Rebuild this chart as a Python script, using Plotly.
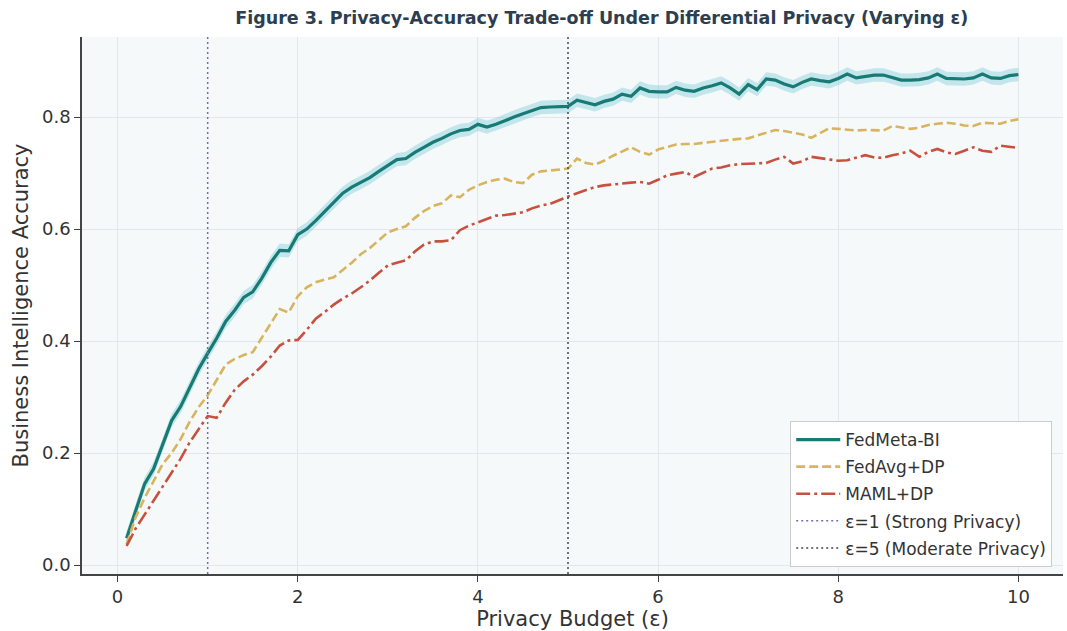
import plotly.graph_objects as go

# Privacy budget values (epsilon)
epsilon = [round(0.1 * i, 1) for i in range(1, 101)]

fedmeta_bi = [
    0.048, 0.095, 0.145, 0.172, 0.215, 0.258, 0.283, 0.316, 0.350, 0.378,
    0.405, 0.435, 0.455, 0.478, 0.488, 0.512, 0.540, 0.562, 0.561, 0.590,
    0.600, 0.615, 0.632, 0.648, 0.664, 0.675, 0.683, 0.692, 0.703, 0.714,
    0.724, 0.726, 0.737, 0.746, 0.755, 0.762, 0.770, 0.776, 0.778, 0.787,
    0.782, 0.787, 0.794, 0.800, 0.806, 0.812, 0.817, 0.818, 0.818, 0.819,
    0.830, 0.826, 0.822, 0.828, 0.832, 0.841, 0.837, 0.852, 0.846, 0.845,
    0.845, 0.853, 0.848, 0.846, 0.852, 0.856, 0.861, 0.852, 0.841, 0.858,
    0.849, 0.868, 0.866, 0.859, 0.854, 0.862, 0.868, 0.865, 0.863, 0.869,
    0.877, 0.870, 0.872, 0.875, 0.875, 0.871, 0.866, 0.866, 0.867, 0.870,
    0.877, 0.869, 0.868, 0.868, 0.870, 0.877, 0.870, 0.869, 0.874, 0.876,
]

fedavg_dp = [
    0.037, 0.085, 0.120, 0.150, 0.180, 0.200, 0.225, 0.256, 0.282, 0.303,
    0.330, 0.358, 0.368, 0.375, 0.380, 0.405, 0.432, 0.457, 0.451, 0.480,
    0.496, 0.505, 0.510, 0.514, 0.527, 0.540, 0.555, 0.566, 0.580, 0.594,
    0.600, 0.605, 0.620, 0.632, 0.641, 0.646, 0.660, 0.657, 0.670, 0.678,
    0.684, 0.688, 0.690, 0.684, 0.682, 0.697, 0.703, 0.705, 0.707, 0.708,
    0.726, 0.718, 0.715, 0.722, 0.731, 0.738, 0.746, 0.738, 0.733, 0.742,
    0.746, 0.751, 0.752, 0.752, 0.754, 0.756, 0.758, 0.760, 0.761, 0.762,
    0.767, 0.771, 0.777, 0.775, 0.772, 0.769, 0.763, 0.772, 0.780, 0.779,
    0.778, 0.776, 0.777, 0.776, 0.776, 0.784, 0.782, 0.779, 0.781, 0.786,
    0.788, 0.790, 0.788, 0.785, 0.784, 0.790, 0.789, 0.788, 0.793, 0.796,
]

maml_dp = [
    0.034, 0.065, 0.090, 0.115, 0.140, 0.165, 0.190, 0.219, 0.243, 0.266,
    0.263, 0.290, 0.313, 0.328, 0.340, 0.355, 0.372, 0.392, 0.401, 0.402,
    0.420, 0.440, 0.452, 0.465, 0.476, 0.485, 0.496, 0.508, 0.522, 0.535,
    0.540, 0.544, 0.560, 0.572, 0.578, 0.578, 0.580, 0.598, 0.606, 0.612,
    0.619, 0.624, 0.625, 0.628, 0.630, 0.637, 0.642, 0.645, 0.652, 0.658,
    0.664, 0.670, 0.675, 0.678, 0.680, 0.681, 0.683, 0.684, 0.681, 0.688,
    0.696, 0.699, 0.702, 0.693, 0.700, 0.708, 0.710, 0.714, 0.716, 0.717,
    0.717, 0.718, 0.724, 0.729, 0.717, 0.721, 0.729, 0.727, 0.725, 0.722,
    0.723, 0.727, 0.732, 0.728, 0.727, 0.732, 0.735, 0.740, 0.729, 0.738,
    0.743, 0.737, 0.734, 0.740, 0.746, 0.740, 0.738, 0.749, 0.747, 0.745,
]

# Spread of FedMeta-BI accuracy across runs (half-width of the shaded band)
fedmeta_spread = 0.012

# Reference privacy levels
ref_eps = [1, 5]
ref_names = ["ε=1 (Strong Privacy)", "ε=5 (Moderate Privacy)"]
ref_colors = ["#7d68ad", "#3d4756"]

X_RANGE = [-0.395, 10.495]
Y_RANGE = [-0.016, 0.943]

FONT = "DejaVu Sans"
TEXT = "#333333"

fig = go.Figure()

upper = [v + fedmeta_spread for v in fedmeta_bi]
lower = [v - fedmeta_spread for v in fedmeta_bi]
fig.add_trace(go.Scatter(
    x=epsilon + epsilon[::-1], y=upper + lower[::-1],
    fill="toself", fillcolor="rgba(110,200,212,0.38)",
    line=dict(width=0), hoverinfo="skip", showlegend=False,
))

fig.add_trace(go.Scatter(
    x=epsilon, y=fedmeta_bi, mode="lines", name="FedMeta-BI",
    line=dict(color="#187a74", width=3.2), legendgroup="a",
))
fig.add_trace(go.Scatter(
    x=epsilon, y=fedavg_dp, mode="lines", name="FedAvg+DP",
    line=dict(color="#d8b45e", width=2.6, dash="9px,4px"), legendgroup="b",
))
fig.add_trace(go.Scatter(
    x=epsilon, y=maml_dp, mode="lines", name="MAML+DP",
    line=dict(color="#c8503f", width=2.6, dash="14px,4px,3px,4px"), legendgroup="c",
))

for i, (e, nm, col) in enumerate(zip(ref_eps, ref_names, ref_colors)):
    fig.add_trace(go.Scatter(
        x=[e, e], y=Y_RANGE, mode="lines", name=nm,
        line=dict(color=col, width=1.5, dash="2px,3px"),
        legendgroup="r%d" % i, hoverinfo="skip",
    ))

axis_common = dict(
    showgrid=True, gridcolor="#e4e7ea", gridwidth=1,
    zeroline=False, showline=True, linecolor="#444444", linewidth=1.5,
    ticks="outside", ticklen=6, tickwidth=1.2, tickcolor="#444444",
    tickfont=dict(family=FONT, size=18, color=TEXT), mirror=False,
)

fig.update_layout(
    width=1067, height=631,
    margin=dict(l=82, r=4, t=37, b=57),
    paper_bgcolor="white", plot_bgcolor="#f6f9fa",
    title=dict(
        text="<b>Figure 3. Privacy-Accuracy Trade-off Under Differential Privacy (Varying ε)</b>",
        x=0.564, xanchor="center", y=0.972, yanchor="middle",
        font=dict(family=FONT, size=17.5, color="#2c3e50"),
    ),
    xaxis=dict(
        range=X_RANGE, tickvals=[0, 2, 4, 6, 8, 10],
        title=dict(text="Privacy Budget (ε)", font=dict(family=FONT, size=21, color=TEXT), standoff=4),
        **axis_common,
    ),
    yaxis=dict(
        range=Y_RANGE, tickvals=[0.0, 0.2, 0.4, 0.6, 0.8], tickformat=".1f",
        title=dict(text="Business Intelligence Accuracy", font=dict(family=FONT, size=21, color=TEXT), standoff=8),
        **axis_common,
    ),
    legend=dict(
        x=0.989, xanchor="right", y=0.013, yanchor="bottom",
        bgcolor="white", bordercolor="#cccccc", borderwidth=1,
        font=dict(family=FONT, size=17, color=TEXT),
        tracegroupgap=2, traceorder="grouped", itemwidth=44,
    ),
    showlegend=True,
)

fig.write_html("out.html")
